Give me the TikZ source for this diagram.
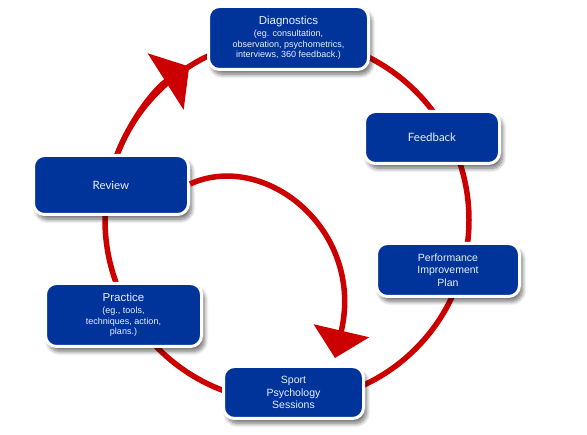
\documentclass[tikz,border=0pt]{standalone}
\usepackage{fontspec}
\setmainfont{Liberation Sans}
\newfontfamily\latofont{Lato}
\usetikzlibrary{arrows.meta,shadows.blur}
\definecolor{boxblue}{RGB}{0,52,155}
\definecolor{ringred}{RGB}{204,0,0}
\definecolor{boxtext}{RGB}{236,240,250}
\begin{document}
\begin{tikzpicture}[x=1pt,y=-1pt,
  box/.style={rounded corners=11pt, fill=boxblue, draw=white, line width=3pt,
    text=boxtext, align=center, inner sep=0pt,
    font=\fontsize{9}{10.6}\selectfont,
    blur shadow={shadow xshift=3pt, shadow yshift=-5pt, shadow opacity=55,
      shadow blur radius=4pt, shadow blur steps=10}},
  big/.style={font=\fontsize{10.5}{12.4}\selectfont},
  lato/.style={font=\latofont\fontsize{11.5}{13}\selectfont},
  ring/.style={draw=ringred, line width=5.5pt},
]
\useasboundingbox (0,0) rectangle (587,435);
\coordinate (c) at (287,220);
\draw[ring] (c) circle[radius=182];
\path (c) ++(200:182) coordinate (a1s);
\draw[ring, -{Triangle[length=28pt,width=66pt]}] (a1s) arc[start angle=200, end angle=237.5, radius=182];

\node[box, minimum width=160, minimum height=63] (diag) at (288.5,38)
  {{\fontsize{11.5}{13}\selectfont Diagnostics}\\[1.5pt]
   (eg. consultation,\\ observation, psychometrics,\\ interviews, 360 feedback.)};
\node[box, lato, minimum width=135, minimum height=52] (fb) at (432,137.5) {Feedback};
\node[box, big, minimum width=143, minimum height=53] (pip) at (448,270) {Performance\\ Improvement\\ Plan};
\node[box, big, minimum width=140, minimum height=52] (sps) at (293.5,392.5) {Sport\\ Psychology\\ Sessions};
\node[box, minimum width=156, minimum height=63] (prac) at (123.5,315)
  {{\fontsize{11.5}{13}\selectfont Practice}\\[1.5pt]
   (eg., tools,\\ techniques, action,\\ plans.)};
\node[box, lato, minimum width=155, minimum height=59] (rev) at (111,185) {Review};

\coordinate (tip2) at (335,358);
\draw[ring, -{Triangle[length=28pt,width=56pt]}] ([yshift=1pt]rev.east) .. controls (265,150) and (365,230) .. (tip2);
\end{tikzpicture}
\end{document}
